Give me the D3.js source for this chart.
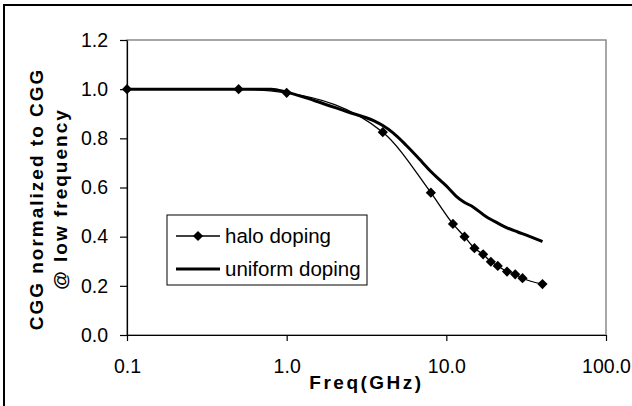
<!DOCTYPE html>
<html>
<head>
<meta charset="utf-8">
<script src="https://cdn.jsdelivr.net/npm/d3@7"></script>
<style>
body { margin: 0; background: #fff; }
svg text { font-family: Arial, "Liberation Sans", Helvetica, sans-serif; fill: #000; }
</style>
</head>
<body>
<script>
"use strict";
// values
const haloFreq = [0.1, 0.5, 1, 4, 8, 11, 13, 15, 17, 19, 21, 24, 27, 30, 40];
const haloCgg = [1.0, 1.0, 0.985, 0.825, 0.579, 0.452, 0.40, 0.353, 0.328, 0.298, 0.281, 0.258, 0.247, 0.231, 0.207];
const uniformFreq = [0.1, 0.5, 0.8, 1.0, 1.5, 2.4, 3.5, 4.0, 4.6, 5.6, 7.0, 8.0, 9.2, 10.3, 11.5, 12.8, 14.7, 17.7, 21, 24, 28, 32, 36, 40];
const uniformCgg = [1.0, 1.0, 1.0, 0.988, 0.953, 0.908, 0.872, 0.852, 0.824, 0.772, 0.706, 0.665, 0.628, 0.598, 0.565, 0.542, 0.521, 0.482, 0.455, 0.436, 0.419, 0.405, 0.392, 0.38];
const xTicks = [0.1, 1, 10, 100];
const yTicks = [0, 0.2, 0.4, 0.6, 0.8, 1.0, 1.2];
const seriesNames = ["halo doping", "uniform doping"];
const xTitle = "Freq(GHz)";
const yTitle = ["CGG normalized to CGG", "@ low frequency"];

const size = {"width": 632, "height": 406};
const plot = {"left": 127, "right": 606, "top": 40, "bottom": 335};

const svg = d3.select("body")
	.append("svg")
	.attr("width", size.width)
	.attr("height", size.height);

svg.append("rect")
	.attr("width", size.width)
	.attr("height", size.height)
	.attr("fill", "#fff");

// outer frame, right and bottom edges fall outside the picture
svg.append("rect")
	.attr("x", 4)
	.attr("y", 5)
	.attr("width", size.width + 20)
	.attr("height", size.height + 20)
	.attr("fill", "none")
	.attr("stroke", "#000")
	.attr("stroke-width", 2);

const x = d3.scaleLog()
	.domain([xTicks[0], xTicks[xTicks.length - 1]])
	.range([plot.left, plot.right]);
const y = d3.scaleLinear()
	.domain([yTicks[0], yTicks[yTicks.length - 1]])
	.range([plot.bottom, plot.top]);

// plot area border (grey)
svg.append("rect")
	.attr("x", x.range()[0])
	.attr("y", y.range()[1])
	.attr("width", x.range()[1] - x.range()[0])
	.attr("height", y.range()[0] - y.range()[1])
	.attr("fill", "none")
	.attr("stroke", "#8a8a8a")
	.attr("stroke-width", 1.5);

const fmt = d3.format(".1f");

const yAxis = svg.append("g")
	.attr("transform", "translate(" + plot.left + ",0)")
	.call(d3.axisLeft(y).tickValues(yTicks).tickFormat(fmt).tickSize(7).tickSizeOuter(0).tickPadding(12));

const xAxis = svg.append("g")
	.attr("transform", "translate(0," + plot.bottom + ")")
	.call(d3.axisBottom(x).tickValues(xTicks).tickFormat(fmt).tickSize(6).tickSizeOuter(0).tickPadding(18));

[xAxis, yAxis].forEach(a => {
	a.select(".domain").attr("stroke", "#000").attr("stroke-width", 1.2);
	a.selectAll(".tick line").attr("stroke", "#000").attr("stroke-width", 1.2);
	a.selectAll(".tick text")
		.style("font-family", "Arial, 'Liberation Sans', sans-serif")
		.style("font-size", "19.5px")
		.attr("fill", "#000");
});

svg.append("text")
	.attr("x", (plot.left + plot.right) / 2)
	.attr("y", 389)
	.attr("text-anchor", "middle")
	.style("font-size", "19px")
	.style("font-weight", "bold")
	.style("letter-spacing", "2.5px")
	.text(xTitle);

yTitle.forEach((t, i) => {
	svg.append("text")
		.attr("transform", "translate(" + (43 + i * 24) + ",199) rotate(-90)")
		.attr("text-anchor", "middle")
		.style("font-size", "19px")
		.style("font-weight", "bold")
		.style("letter-spacing", "2px")
		.text(t);
});

const uniform = uniformFreq.map((f, i) => [f, uniformCgg[i]]);
const halo = haloFreq.map((f, i) => [f, haloCgg[i]]);

const curveLine = d3.line()
	.x(d => x(d[0]))
	.y(d => y(d[1]))
	.curve(d3.curveMonotoneX);

svg.append("path")
	.datum(uniform)
	.attr("d", curveLine)
	.attr("fill", "none")
	.attr("stroke", "#000")
	.attr("stroke-width", 3)
	.attr("stroke-linejoin", "round");

svg.append("path")
	.datum(halo)
	.attr("d", curveLine)
	.attr("fill", "none")
	.attr("stroke", "#000")
	.attr("stroke-width", 1.3);

const diamond = d3.symbol().type(d3.symbolSquare).size(52);

svg.selectAll(".marker")
	.data(halo)
	.enter()
	.append("path")
	.attr("class", "marker")
	.attr("d", diamond)
	.attr("transform", d => "translate(" + x(d[0]) + "," + y(d[1]) + ") rotate(45)")
	.attr("fill", "#000");

// legend
const legend = svg.append("g")
	.attr("transform", "translate(167,215)");
legend.append("rect")
	.attr("width", 200)
	.attr("height", 70)
	.attr("fill", "#fff")
	.attr("stroke", "#000")
	.attr("stroke-width", 1);

const item = legend.selectAll(".item")
	.data(seriesNames)
	.enter()
	.append("g")
	.attr("class", "item")
	.attr("transform", (d, i) => "translate(0," + (21 + i * 33) + ")");
item.append("line")
	.attr("x1", 9)
	.attr("x2", 53)
	.attr("stroke", "#000")
	.attr("stroke-width", (d, i) => i == 0 ? 1.3 : 3);
item.filter((d, i) => i == 0)
	.append("path")
	.attr("d", diamond)
	.attr("transform", "translate(31,0) rotate(45)")
	.attr("fill", "#000");
item.append("text")
	.attr("x", 58)
	.attr("y", 7)
	.style("font-size", "20.5px")
	.text(d => d);
</script>
</body>
</html>
